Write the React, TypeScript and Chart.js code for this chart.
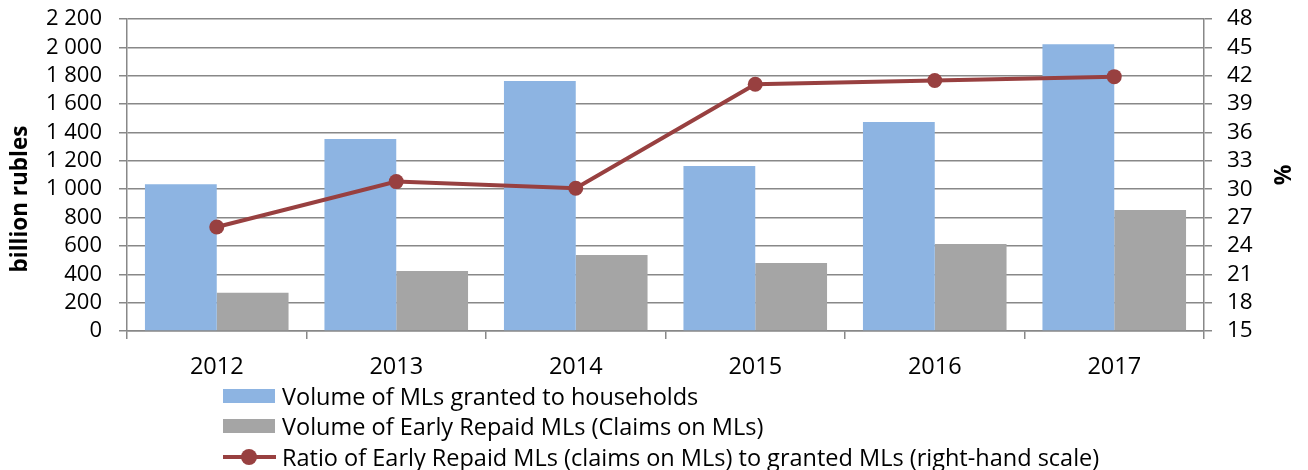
import React, { useEffect, useRef } from "react";
import { Chart, registerables } from "chart.js";

Chart.register(...registerables);

const years = ["2012", "2013", "2014", "2015", "2016", "2017"];
const granted = [1034, 1354, 1763, 1163, 1474, 2022];
const earlyRepaid = [270, 423, 536, 480, 613, 853];
const ratio = [26.0, 30.8, 30.1, 41.1, 41.5, 41.9];

const leftTicks = { min: 0, max: 2200, step: 200 };
const rightTicks = { min: 15, max: 48, step: 3 };

const labelGranted = "Volume of MLs granted to households";
const labelRepaid = "Volume of Early Repaid MLs (Claims on MLs)";
const labelRatio = "Ratio of Early Repaid MLs (claims on MLs) to granted MLs (right-hand scale)";
const leftTitle = "billion rubles";
const rightTitle = "%";

const FONT = "'Open Sans', Lato, sans-serif";
const GRID = "#888888";
const BLUE = "#8DB4E2";
const GRAY = "#A5A5A5";
const RED = "#984040";

const fmt = (v: number) => String(v).replace(/\B(?=(\d{3})+(?!\d))/g, " ");

const axisTitles = {
  id: "axisTitles",
  afterDraw(chart: any) {
    const { ctx, chartArea } = chart;
    ctx.save();
    ctx.fillStyle = "#000";
    ctx.font = `bold 22.5px ${FONT}`;
    ctx.textAlign = "center";
    ctx.textBaseline = "middle";
    ctx.translate(chartArea.left - 106, (chartArea.top + chartArea.bottom) / 2 + 24);
    ctx.rotate(-Math.PI / 2);
    ctx.fillText(leftTitle, 0, 0);
    ctx.restore();
    ctx.save();
    ctx.fillStyle = "#000";
    ctx.font = `bold 23px ${FONT}`;
    ctx.textAlign = "center";
    ctx.textBaseline = "middle";
    ctx.translate(chartArea.right + 80, (chartArea.top + chartArea.bottom) / 2);
    ctx.rotate(-Math.PI / 2);
    ctx.fillText(rightTitle, 0, 0);
    ctx.restore();
  },
};

export default function App() {
  const ref = useRef<HTMLCanvasElement>(null);

  useEffect(() => {
    if (!ref.current) return;
    const tickFont = { family: FONT, size: 22 };
    const zeroPad = (s: any) => {
      s.paddingTop = 0;
      s.paddingBottom = 0;
    };
    const chart = new Chart(ref.current, {
      type: "bar",
      data: {
        labels: years,
        datasets: [
          {
            type: "line",
            label: labelRatio,
            data: ratio,
            yAxisID: "y1",
            borderColor: RED,
            backgroundColor: RED,
            borderWidth: 4,
            pointRadius: 7.5,
            pointBackgroundColor: RED,
            pointBorderColor: RED,
            pointBorderWidth: 0,
            tension: 0,
            order: 0,
          } as any,
          {
            label: labelGranted,
            data: granted,
            yAxisID: "y",
            backgroundColor: BLUE,
            borderWidth: 0,
            barPercentage: 1,
            categoryPercentage: 0.8,
            order: 1,
          },
          {
            label: labelRepaid,
            data: earlyRepaid,
            yAxisID: "y",
            backgroundColor: GRAY,
            borderWidth: 0,
            barPercentage: 1,
            categoryPercentage: 0.8,
            order: 1,
          },
        ],
      },
      options: {
        responsive: false,
        animation: false,
        devicePixelRatio: 1,
        layout: { padding: { top: 19, left: 0, right: 0, bottom: 0 } },
        plugins: {
          legend: { display: false },
          tooltip: { enabled: false },
          title: { display: false },
        },
        scales: {
          x: {
            type: "category",
            offset: true,
            grid: {
              offset: true,
              drawOnChartArea: false,
              drawTicks: true,
              tickLength: 8,
              color: GRID,
              lineWidth: 1.5,
            },
            border: { color: GRID, width: 1.5 },
            ticks: { font: { family: FONT, size: 23.5 }, color: "#000", padding: 14, maxRotation: 0, autoSkip: false },
            afterFit: (s: any) => {
              s.height = 139;
              s.paddingLeft = 0;
              s.paddingRight = 0;
            },
          },
          y: {
            type: "linear",
            position: "left",
            min: leftTicks.min,
            max: leftTicks.max,
            ticks: {
              stepSize: leftTicks.step,
              autoSkip: false,
              callback: (v: any) => fmt(Number(v)),
              font: tickFont,
              color: "#000",
              padding: 17,
            },
            grid: { color: GRID, lineWidth: 1.5, tickLength: 8 },
            border: { color: GRID, width: 1.5 },
            afterFit: (s: any) => {
              s.width = 127;
              zeroPad(s);
            },
          },
          y1: {
            type: "linear",
            position: "right",
            min: rightTicks.min,
            max: rightTicks.max,
            ticks: {
              stepSize: rightTicks.step,
              autoSkip: false,
              font: { family: FONT, size: 22.5 },
              color: "#000",
              padding: 15,
            },
            grid: { drawOnChartArea: false, color: GRID, lineWidth: 1.5, tickLength: 8 },
            border: { color: GRID, width: 1.5 },
            afterFit: (s: any) => {
              s.width = 104;
              zeroPad(s);
            },
          },
        },
      },
      plugins: [axisTitles],
    });
    return () => chart.destroy();
  }, []);

  const rowStyle: React.CSSProperties = {
    position: "absolute",
    left: 223,
    height: 31,
    display: "flex",
    alignItems: "center",
    whiteSpace: "nowrap",
    fontFamily: FONT,
    fontSize: 23.5,
    color: "#000",
  };
  const swatch = (c: string): React.CSSProperties => ({
    width: 52,
    height: 14,
    background: c,
    marginRight: 7,
    flex: "none",
  });

  return (
    <div style={{ position: "fixed", left: 0, top: 0, width: 1308, height: 470, background: "#fff" }}>
      <canvas ref={ref} width={1308} height={470} style={{ display: "block", width: 1308, height: 470 }} />
      <div style={{ ...rowStyle, top: 380 }}>
        <span style={swatch(BLUE)} />
        <span>{labelGranted}</span>
      </div>
      <div style={{ ...rowStyle, top: 410 }}>
        <span style={swatch(GRAY)} />
        <span>{labelRepaid}</span>
      </div>
      <div style={{ ...rowStyle, top: 441 }}>
        <span style={{ position: "relative", width: 53, height: 16, marginRight: 6, flex: "none" }}>
          <span style={{ position: "absolute", left: 0, top: 6, width: 53, height: 4, background: RED }} />
          <span
            style={{
              position: "absolute",
              left: 18,
              top: 0,
              width: 16,
              height: 16,
              borderRadius: "50%",
              background: RED,
            }}
          />
        </span>
        <span>{labelRatio}</span>
      </div>
    </div>
  );
}
